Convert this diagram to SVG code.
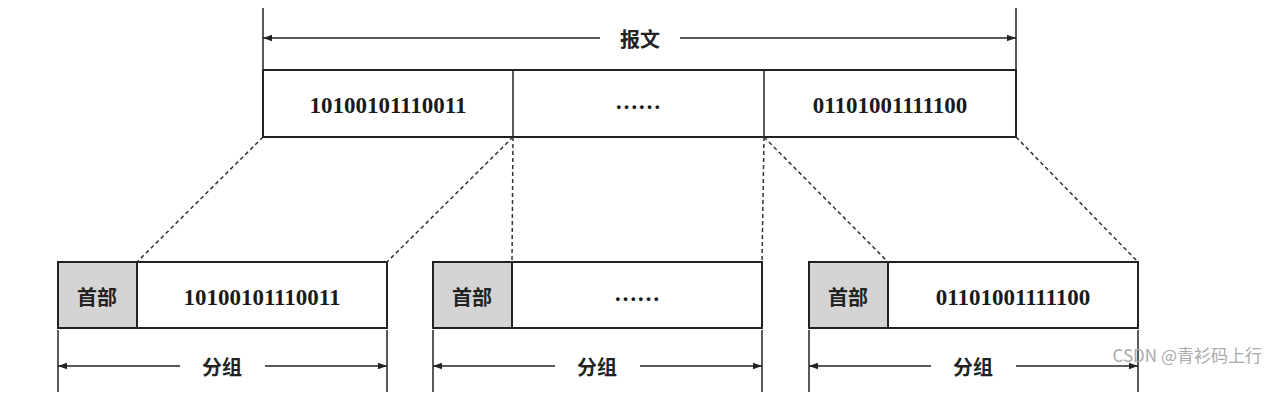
<svg xmlns="http://www.w3.org/2000/svg" width="1278" height="403" viewBox="0 0 1278 403">
<style>
.b{fill:#fff;stroke:#222;stroke-width:2}
.h{fill:#d4d4d4;stroke:#222;stroke-width:2}
.l{stroke:#222;stroke-width:1.5;fill:none}
.d{stroke:#333;stroke-width:1.5;stroke-dasharray:4,3;fill:none}
.t{font-family:"Liberation Serif","Noto Sans CJK SC",serif;font-size:23px;font-weight:bold;fill:#1a1a1a;text-anchor:middle;dominant-baseline:central}
.c{font-family:"Noto Sans CJK SC",sans-serif;font-size:20px;font-weight:bold;fill:#222;text-anchor:middle;dominant-baseline:central}
</style>
<defs>
<marker id="a" viewBox="0 0 10 10" refX="10" refY="5" markerWidth="9" markerHeight="9" orient="auto-start-reverse" markerUnits="userSpaceOnUse"><path d="M0,1.5L10,5L0,8.5z" fill="#222"/></marker>
</defs>
<rect width="1278" height="403" fill="#fff"/>
<g id="message">
<rect class="b" x="263" y="70" width="753" height="67"/>
<line class="l" x1="513" y1="70" x2="513" y2="137"/>
<line class="l" x1="764" y1="70" x2="764" y2="137"/>
<text class="t" x="388" y="105">10100101110011</text>
<text class="t" x="638" y="101">……</text>
<text class="t" x="890" y="105">01101001111100</text>
</g>
<g id="packet1">
<rect class="b" x="58" y="262" width="329" height="66"/>
<rect class="h" x="58" y="262" width="79" height="66"/>
<text class="c" x="97" y="296">首部</text>
<text class="t" x="262" y="297">10100101110011</text>
</g>
<g id="packet2">
<rect class="b" x="433" y="262" width="329" height="66"/>
<rect class="h" x="433" y="262" width="79" height="66"/>
<text class="c" x="472" y="296">首部</text>
<text class="t" x="637" y="293">……</text>
</g>
<g id="packet3">
<rect class="b" x="809" y="262" width="329" height="66"/>
<rect class="h" x="809" y="262" width="79" height="66"/>
<text class="c" x="848" y="296">首部</text>
<text class="t" x="1013" y="297">01101001111100</text>
</g>
<g id="connectors">
<line class="l" x1="263" y1="8" x2="263" y2="70"/>
<line class="l" x1="1016" y1="8" x2="1016" y2="70"/>
<line class="l" x1="263" y1="38" x2="600" y2="38" marker-start="url(#a)"/>
<line class="l" x1="680" y1="38" x2="1016" y2="38" marker-end="url(#a)"/>
<text class="c" x="640" y="38">报文</text>
<line class="d" x1="263" y1="137" x2="137" y2="262"/>
<line class="d" x1="513" y1="137" x2="387" y2="262"/>
<line class="d" x1="513" y1="137" x2="512" y2="262"/>
<line class="d" x1="764" y1="137" x2="762" y2="262"/>
<line class="d" x1="764" y1="137" x2="888" y2="262"/>
<line class="d" x1="1016" y1="137" x2="1138" y2="262"/>
<g>
<line class="l" x1="58" y1="330" x2="58" y2="392"/><line class="l" x1="387" y1="330" x2="387" y2="392"/>
<line class="l" x1="58" y1="366" x2="180" y2="366" marker-start="url(#a)"/><line class="l" x1="265" y1="366" x2="387" y2="366" marker-end="url(#a)"/>
<text class="c" x="222" y="366">分组</text>
<line class="l" x1="433" y1="330" x2="433" y2="392"/><line class="l" x1="762" y1="330" x2="762" y2="392"/>
<line class="l" x1="433" y1="366" x2="555" y2="366" marker-start="url(#a)"/><line class="l" x1="640" y1="366" x2="762" y2="366" marker-end="url(#a)"/>
<text class="c" x="597" y="366">分组</text>
<line class="l" x1="809" y1="330" x2="809" y2="392"/><line class="l" x1="1138" y1="330" x2="1138" y2="392"/>
<line class="l" x1="809" y1="366" x2="931" y2="366" marker-start="url(#a)"/><line class="l" x1="1016" y1="366" x2="1138" y2="366" marker-end="url(#a)"/>
<text class="c" x="973" y="366">分组</text>
</g>
</g>
<text x="1262" y="362" font-family="'Noto Sans CJK SC',sans-serif" font-size="17" fill="#aaa" text-anchor="end">CSDN @青衫码上行</text>
</svg>
